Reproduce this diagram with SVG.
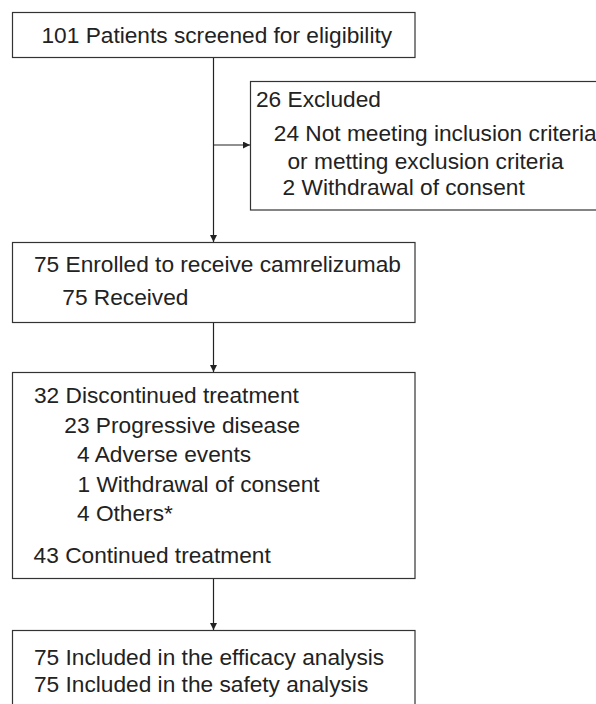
<svg xmlns="http://www.w3.org/2000/svg" width="596" height="704" viewBox="0 0 596 704">
<style>
.box{fill:#fff;stroke:#333;stroke-width:1.2}
.t{font-family:"Liberation Sans",Arial,sans-serif;font-size:22.7px;fill:#222}
.c{stroke:#222;stroke-width:1.2;fill:none}
</style>
<defs>
<marker id="ah" markerWidth="7" markerHeight="7" refX="7" refY="3.5" orient="auto" markerUnits="userSpaceOnUse">
<path d="M0,0 L7,3.5 L0,7 Z" fill="#222"/>
</marker>
</defs>
<rect width="596" height="704" fill="#fff"/>
<g id="connectors">
<line class="c" x1="213.5" y1="58" x2="213.5" y2="242" marker-end="url(#ah)"/>
<line class="c" x1="213.5" y1="145" x2="250" y2="145" marker-end="url(#ah)"/>
<line class="c" x1="213.5" y1="323" x2="213.5" y2="372" marker-end="url(#ah)"/>
<line class="c" x1="213.5" y1="578.5" x2="213.5" y2="630" marker-end="url(#ah)"/>
</g>
<g id="screened">
<rect class="box" x="12.5" y="12.5" width="402.5" height="45"/>
<text class="t" x="41.5" y="42.7">101 Patients screened for eligibility</text>
</g>
<g id="excluded">
<rect class="box" x="250.5" y="81.5" width="400" height="128.5"/>
<text class="t" x="256" y="106.7">26 Excluded</text>
<text class="t" x="273.8" y="140.5">24 Not meeting inclusion criteria</text>
<text class="t" x="287.5" y="168.5">or metting exclusion criteria</text>
<text class="t" x="282.6" y="195">2 Withdrawal of consent</text>
</g>
<g id="enrolled">
<rect class="box" x="12.5" y="242.5" width="402.5" height="80"/>
<text class="t" x="34" y="272.3">75 Enrolled to receive camrelizumab</text>
<text class="t" x="62.3" y="305">75 Received</text>
</g>
<g id="treatment">
<rect class="box" x="12.5" y="372.5" width="402.5" height="206"/>
<text class="t" x="34" y="402.7">32 Discontinued treatment</text>
<text class="t" x="64.3" y="432.7">23 Progressive disease</text>
<text class="t" x="77" y="461.7">4 Adverse events</text>
<text class="t" x="77.5" y="491.7">1 Withdrawal of consent</text>
<text class="t" x="77" y="520.5">4 Others*</text>
<text class="t" x="33.6" y="563.3">43 Continued treatment</text>
</g>
<g id="analysis">
<rect class="box" x="12.5" y="630.5" width="402.5" height="90"/>
<text class="t" x="34" y="665">75 Included in the efficacy analysis</text>
<text class="t" x="34" y="692.3">75 Included in the safety analysis</text>
</g>
</svg>
